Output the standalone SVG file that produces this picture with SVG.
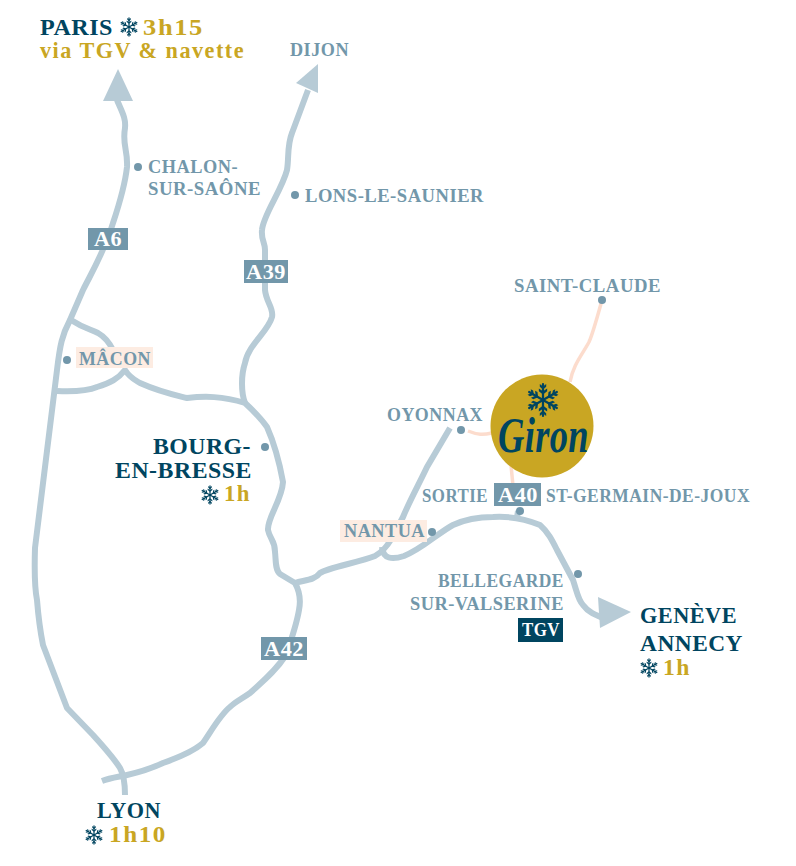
<svg xmlns="http://www.w3.org/2000/svg" width="796" height="866" viewBox="0 0 796 866">
<style>
text{font-family:"Liberation Serif","Times New Roman",serif;font-weight:700;letter-spacing:.5px}
.road{fill:none;stroke:#b7cbd6;stroke-width:6;stroke-linejoin:round}
.link{fill:none;stroke:#fcdccd;stroke-width:3.5}
.head{fill:#b7cbd6}
.dot{fill:#7297aa}
.g{fill:#7297aa;font-size:18.5px}
.d{fill:#004560;font-size:23.5px}
.o{fill:#c9a623;font-size:23.5px;letter-spacing:1.5px}
.b{fill:#7297aa}
.w{fill:#fff;font-size:21px}
.p{fill:#fdece2}
.fl line{stroke:#004560;stroke-linecap:round}
</style>
<defs>
<g id="flake" class="fl">
<g id="arm3">
<g id="arm"><line x1="0" y1="0" x2="0" y2="-10" stroke-width="1.4"/><path d="M0-3.5L-2.6-5.5V-7.2L0-5.4L2.6-7.2V-5.5ZM0-6.5L-2-8.3V-10L0-8.4L2-10V-8.3Z" fill="#004560"/></g>
<use href="#arm" transform="rotate(60)"/><use href="#arm" transform="rotate(120)"/>
</g>
<use href="#arm3" transform="rotate(180)"/>
</g>
</defs>
<g id="connectors">
<path class="link" d="M602 300C597 318 593 333 589 342C582 355 573 365 570 382"/>
<path class="link" d="M468 431C478 435 483 435 492 433"/>
<path class="link" d="M511 465L513 486"/>
<path class="road" d="M117 100C122 112 126 118 125 128C122 145 128 150 127 167C125 185 118 208 113 223C105 250 93 270 83 290L70 320C62 335 60 345 57 370L35 548C34 580 35 590 37 600C39 625 41 635 43 645L67 708L93 735C103 746 115 760 120 768C124 775 125 785 125 795"/>
<path class="road" d="M308 90L292 133C287 145 289 158 287 170C282 190 263 215 262 230C261 240 265 242 265 250L265 290C266 302 274 308 272 317C268 332 248 345 245 363C241 375 241 392 245 403"/>
<path class="road" d="M71 320C85 329 90 329 98 333C105 337 109 342 113 350"/>
<path class="road" d="M57 391C80 392 90 390 97 387C110 383 118 379 125 370C130 378 135 380 140 383C160 392 175 395 187 398C205 396 222 396 245 403C258 415 262 420 267 427C275 445 279 460 283 482C282 500 267 518 268 530C270 540 275 540 275 552C276 560 275 570 280 574L295 583C300 592 301 600 299 610C297 622 293 635 286 655C275 672 262 682 250 693C240 700 235 702 230 707C220 715 212 730 203 743C195 750 180 757 163 763C150 769 140 772 127 775C118 777 110 778 102 781"/>
<path class="road" d="M295 583C305 580 315 580 320 573C327 568 360 562 375 556C382 552 386 548 392 538L403 517C410 500 420 482 427 467L450 428"/>
<path class="road" d="M382 547C383 559 392 560 404 556C422 549 438 533 453 525C468 518 480 517 493 517C510 516 528 520 540 525C548 532 552 540 557 550L573 580C577 592 578 600 583 605C588 612 595 615 606 619"/>
<path class="road" d="M517 518L518 511"/>
<polygon class="head" points="118,69 103,101 133,101"/>
<polygon class="head" points="318,64 296,83 318,93"/>
<polygon class="head" points="631,612 598,597 600,628"/>
</g>
<g id="paris"><text class="d" x="40" y="35" textLength="73" lengthAdjust="spacingAndGlyphs">PARIS</text><use href="#flake" transform="translate(129,27) scale(.9)"/><text class="o" x="143" y="35" textLength="61" lengthAdjust="spacingAndGlyphs">3h15</text><text class="o" x="40" y="58" textLength="205" lengthAdjust="spacingAndGlyphs" style="font-size:22.5px">via TGV &amp; navette</text></g>
<g id="dijon"><text class="g" x="290" y="56" textLength="59" lengthAdjust="spacingAndGlyphs">DIJON</text></g>
<g id="chalon"><circle class="dot" cx="138" cy="167" r="4"/><text class="g" x="148" y="173" textLength="90" lengthAdjust="spacingAndGlyphs">CHALON-</text><text class="g" x="148" y="195" textLength="113" lengthAdjust="spacingAndGlyphs">SUR-SAÔNE</text></g>
<g id="lons"><circle class="dot" cx="295" cy="195" r="4"/><text class="g" x="305" y="202" textLength="179" lengthAdjust="spacingAndGlyphs">LONS-LE-SAUNIER</text></g>
<g id="a6"><rect class="b" x="88" y="228" width="40" height="22"/><text class="w" x="94" y="246" textLength="28" lengthAdjust="spacingAndGlyphs">A6</text></g>
<g id="a39"><rect class="b" x="244" y="260" width="44" height="23"/><text class="w" x="246" y="279" textLength="40" lengthAdjust="spacingAndGlyphs">A39</text></g>
<g id="saint-claude"><circle class="dot" cx="602" cy="300" r="4"/><text class="g" x="514" y="292" textLength="147" lengthAdjust="spacingAndGlyphs">SAINT-CLAUDE</text></g>
<g id="oyonnax"><circle class="dot" cx="461" cy="430" r="4"/><text class="g" x="387" y="421" textLength="96" lengthAdjust="spacingAndGlyphs">OYONNAX</text></g>
<g id="macon"><circle class="dot" cx="67" cy="360" r="4"/><rect class="p" x="76" y="347" width="77" height="21"/><text class="g" x="79" y="365" textLength="72" lengthAdjust="spacingAndGlyphs">MÂCON</text></g>
<g id="bourg"><circle class="dot" cx="265" cy="447" r="4"/><text class="d" x="153" y="454" textLength="98" lengthAdjust="spacingAndGlyphs">BOURG-</text><text class="d" x="115" y="478" textLength="137" lengthAdjust="spacingAndGlyphs">EN-BRESSE</text><use href="#flake" transform="translate(210,495) scale(.9)"/><text class="o" x="224" y="501" textLength="27" lengthAdjust="spacingAndGlyphs">1h</text></g>
<g id="giron"><circle cx="542" cy="426" r="51.5" fill="#c9a623"/><use href="#flake" transform="translate(543,400) scale(1.6)"/><text x="498" y="452" font-size="50" font-style="italic" fill="#004560" textLength="91" lengthAdjust="spacingAndGlyphs">Giron</text></g>
<g id="sortie"><text class="g" x="422" y="502" textLength="66" lengthAdjust="spacingAndGlyphs">SORTIE</text><rect class="b" x="494" y="483" width="47" height="23"/><text class="w" x="498" y="502" textLength="40" lengthAdjust="spacingAndGlyphs">A40</text><text class="g" x="546" y="502" textLength="204" lengthAdjust="spacingAndGlyphs">ST-GERMAIN-DE-JOUX</text><circle class="dot" cx="520" cy="511" r="4"/></g>
<g id="nantua"><rect class="p" x="340" y="520" width="87" height="22"/><text class="g" x="344" y="537" textLength="81" lengthAdjust="spacingAndGlyphs">NANTUA</text><circle class="dot" cx="432" cy="532" r="4"/></g>
<g id="bellegarde"><circle class="dot" cx="578" cy="574" r="4"/><text class="g" x="438" y="587" textLength="126" lengthAdjust="spacingAndGlyphs">BELLEGARDE</text><text class="g" x="410" y="610" textLength="154" lengthAdjust="spacingAndGlyphs">SUR-VALSERINE</text><rect x="518" y="618" width="45" height="24" fill="#004560"/><text x="522" y="636" textLength="38" lengthAdjust="spacingAndGlyphs" fill="#fff" font-size="18">TGV</text></g>
<g id="geneve"><text class="d" x="640" y="623" textLength="97" lengthAdjust="spacingAndGlyphs">GENÈVE</text><text class="d" x="640" y="651" textLength="103" lengthAdjust="spacingAndGlyphs">ANNECY</text><use href="#flake" transform="translate(649,668) scale(.9)"/><text class="o" x="663" y="675" textLength="28" lengthAdjust="spacingAndGlyphs">1h</text></g>
<g id="a42"><rect class="b" x="261" y="637" width="46" height="23"/><text class="w" x="264" y="656" textLength="40" lengthAdjust="spacingAndGlyphs">A42</text></g>
<g id="lyon"><text class="d" x="97" y="818" textLength="64" lengthAdjust="spacingAndGlyphs">LYON</text><use href="#flake" transform="translate(94,835) scale(.9)"/><text class="o" x="109" y="842" textLength="58" lengthAdjust="spacingAndGlyphs">1h10</text></g>
</svg>
